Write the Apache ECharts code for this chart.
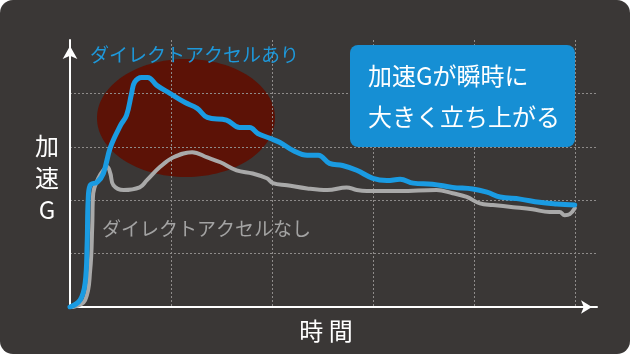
<!DOCTYPE html>
<html>
<head>
<meta charset="utf-8">
<script src="https://cdn.jsdelivr.net/npm/echarts@6/dist/echarts.min.js"></script>
<style>
  html, body { margin: 0; padding: 0; background: #ffffff; }
  #chart { width: 630px; height: 354px; background: #3a3736; border-radius: 13px; overflow: hidden; }
</style>
</head>
<body>
<div id="chart"></div>
<script>
// 時間 (0-5) / 加速G (0-5)
var blueTime = [0, 0.10, 0.15, 0.17, 0.18, 0.20, 0.27, 0.33, 0.40, 0.50, 0.56, 0.61, 0.64, 0.71, 0.77, 0.86, 0.99, 1.14, 1.26, 1.36, 1.55, 1.68, 1.78, 1.86, 1.98, 2.08, 2.21, 2.35, 2.46, 2.57, 2.70, 2.84, 3.00, 3.14, 3.27, 3.40, 3.59, 3.79, 3.99, 4.13, 4.26, 4.46, 4.65, 4.82, 5.00];
var blueG    = [0, 0.13, 0.45, 1.20, 2.00, 2.28, 2.34, 2.50, 2.99, 3.40, 3.59, 4.00, 4.21, 4.30, 4.30, 4.15, 4.00, 3.83, 3.72, 3.55, 3.50, 3.36, 3.36, 3.25, 3.16, 3.08, 2.93, 2.84, 2.84, 2.69, 2.65, 2.56, 2.41, 2.37, 2.39, 2.32, 2.30, 2.24, 2.21, 2.15, 2.06, 2.02, 1.96, 1.93, 1.91];

var grayTime = [0.03, 0.15, 0.20, 0.22, 0.23, 0.28, 0.33, 0.37, 0.40, 0.43, 0.53, 0.69, 0.76, 0.89, 1.02, 1.21, 1.36, 1.49, 1.65, 1.81, 1.95, 2.01, 2.15, 2.35, 2.55, 2.74, 2.84, 2.94, 3.27, 3.63, 3.79, 3.93, 4.06, 4.19, 4.39, 4.58, 4.75, 4.85, 4.90, 4.95, 5.00];
var grayG    = [0, 0.13, 0.69, 1.50, 2.13, 2.41, 2.56, 2.62, 2.50, 2.28, 2.19, 2.24, 2.37, 2.62, 2.80, 2.90, 2.80, 2.71, 2.56, 2.50, 2.41, 2.32, 2.28, 2.22, 2.19, 2.24, 2.19, 2.17, 2.17, 2.19, 2.13, 2.06, 1.94, 1.91, 1.87, 1.83, 1.78, 1.78, 1.72, 1.74, 1.85];

var blueName = 'ダイレクトアクセルあり';
var grayName = 'ダイレクトアクセルなし';
var calloutLines = ['加速Gが瞬時に', '大きく立ち上がる'];

function pairs(t, v) {
  var out = [];
  for (var i = 0; i < t.length; i++) out.push([t[i], v[i]]);
  return out;
}

var font = '"Noto Sans CJK JP", "Noto Sans", sans-serif';
var myChart = echarts.init(document.getElementById('chart'));
var option = {
  backgroundColor: 'transparent',
  animation: false,
  grid: { left: 70, right: 33, top: 40, bottom: 47, outerBoundsMode: 'none' },
  xAxis: {
    type: 'value', min: 0, max: 5.22, interval: 1,
    axisLine: { show: true, lineStyle: { color: '#ffffff', width: 2 },
      symbol: ['none', 'arrow'], symbolSize: [10, 11], symbolOffset: [0, -5] },
    axisTick: { show: false },
    axisLabel: { show: false },
    splitLine: { show: true, showMinLine: false, showMaxLine: false,
      lineStyle: { color: '#8e8b8a', width: 1, type: [2, 2] } }
  },
  yAxis: {
    type: 'value', min: 0, max: 5, interval: 1,
    axisLine: { show: true, lineStyle: { color: '#ffffff', width: 2 },
      symbol: ['none', 'arrow'], symbolSize: [11, 13], symbolOffset: [0, -6] },
    axisTick: { show: false },
    axisLabel: { show: false },
    splitLine: { show: true, showMinLine: false, showMaxLine: false,
      lineStyle: { color: '#8e8b8a', width: 1, type: [2, 2] } }
  },
  graphic: [
    // 赤い楕円
    { type: 'ellipse', z: -10, shape: { cx: 186, cy: 118, rx: 89, ry: 59 },
      style: { fill: '#5c1206' }, silent: true },
    // 吹き出し
    { type: 'rect', z: 10, shape: { x: 350, y: 45, width: 225, height: 102, r: 8 },
      style: { fill: '#168fd4' } },
    { type: 'text', z: 11, x: 368, y: 76,
      style: { text: calloutLines[0], fill: '#ffffff', font: '24px ' + font, verticalAlign: 'middle' } },
    { type: 'text', z: 11, x: 368, y: 117,
      style: { text: calloutLines[1], fill: '#ffffff', font: '24px ' + font, verticalAlign: 'middle' } },
    // 系列ラベル
    { type: 'text', z: 11, x: 90, y: 55,
      style: { text: blueName, fill: '#1e98da', font: '19px ' + font, verticalAlign: 'middle' } },
    { type: 'text', z: 11, x: 102, y: 229,
      style: { text: grayName, fill: '#a3a3a3', font: '19px ' + font, verticalAlign: 'middle' } },
    // 軸タイトル
    { type: 'text', z: 11, x: 47, y: 178,
      style: { text: '加\n速\nG', fill: '#ffffff', font: '24px ' + font, lineHeight: 32,
        align: 'center', verticalAlign: 'middle' } },
    { type: 'text', z: 11, x: 326, y: 331,
      style: { text: '時 間', fill: '#ffffff', font: '24px ' + font,
        align: 'center', verticalAlign: 'middle' } }
  ],
  series: [
    {
      name: grayName, type: 'line', showSymbol: false, smooth: 0.4,
      lineStyle: { color: '#a9a9a9', width: 4, cap: 'round', join: 'round' },
      data: pairs(grayTime, grayG)
    },
    {
      name: blueName, type: 'line', showSymbol: false, smooth: 0.4,
      lineStyle: { color: '#1a9be2', width: 5, cap: 'round', join: 'round' },
      data: pairs(blueTime, blueG)
    }
  ]
};
myChart.setOption(option);
</script>
</body>
</html>
